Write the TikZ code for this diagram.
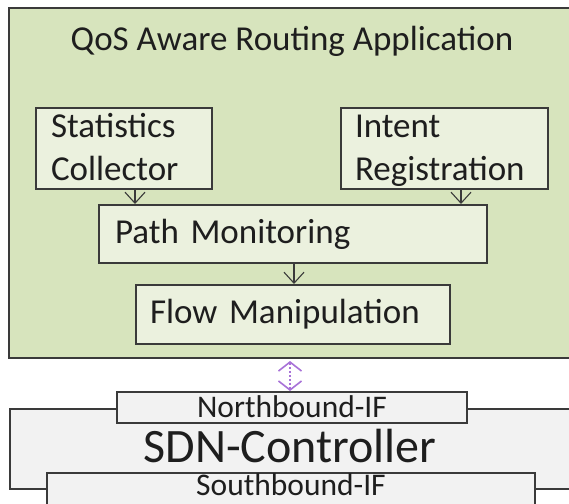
\documentclass[tikz,border=0pt]{standalone}
\usepackage{fontspec}
\setmainfont{Carlito}
\usetikzlibrary{arrows.meta}
\definecolor{appgreen}{HTML}{D7E4BD}
\definecolor{boxgreen}{HTML}{EBF1DE}
\definecolor{ctrlgray}{HTML}{F2F2F2}
\definecolor{edgegray}{HTML}{3A3A3A}
\definecolor{linkpurple}{HTML}{A872D8}
\definecolor{inkcol}{HTML}{1E1E1E}
\begin{document}
\begin{tikzpicture}[x=1pt,y=-1pt,
  frame/.style={draw=edgegray, line width=2pt},
  module/.style={frame, fill=boxgreen, inner ysep=0pt, align=left,
    text=inkcol, font=\fontsize{35}{43}\selectfont},
  iface/.style={frame, fill=ctrlgray, inner sep=0pt, text=inkcol,
    font=\fontsize{31.5}{36}\selectfont},
  flowarrow/.style={draw=edgegray, line width=1.1pt,
    -{Straight Barb[length=11pt,width=20pt]}},
  nbilink/.style={draw=linkpurple, line width=1.6pt, dash pattern=on 2pt off 2pt,
    {Straight Barb[length=9pt,width=23pt]}-{Straight Barb[length=9pt,width=23pt]}}
]
\useasboundingbox (0,0) rectangle (569,503);
\clip (0,0) rectangle (569,503);
\fill[white] (0,0) rectangle (569,503);

% application container
\node[frame, fill=appgreen, minimum width=600pt, minimum height=350pt,
  anchor=north west, inner sep=0pt] (app) at (8,7) {};
\node[anchor=base, inner sep=0pt, text=inkcol, font=\fontsize{35}{43}\selectfont]
  (apptitle) at (292,51) {QoS Aware Routing Application};

% application modules
\node[module, anchor=base west, inner xsep=15pt, text width=146pt,
  text height=29pt, text depth=52pt] (stats) at (35,137)
  {Statistics\\Collector};
\node[module, anchor=base west, inner xsep=14pt, text width=179pt,
  text height=29pt, text depth=52pt] (intent) at (340,137)
  {Intent\\Registration};
\node[module, anchor=base west, inner xsep=16pt, text width=356pt,
  text height=38pt, text depth=20pt] (pathmon) at (98,243)
  {Path Monitoring};
\node[module, anchor=base west, inner xsep=14pt, text width=286pt,
  text height=38pt, text depth=21pt] (flowman) at (135,323)
  {Flow Manipulation};

\draw[flowarrow] ([xshift=11pt]stats.south) -- ([xshift=11pt]stats.south |- pathmon.north);
\draw[flowarrow] ([xshift=16.5pt]intent.south) -- ([xshift=16.5pt]intent.south |- pathmon.north);
\draw[flowarrow] ([xshift=1pt]pathmon.south) -- ([xshift=1pt]pathmon.south |- flowman.north);

% controller
\node[frame, fill=ctrlgray, minimum width=600pt, minimum height=80pt,
  anchor=north west, inner sep=0pt] (ctrl) at (9,408) {};
\node[anchor=base, inner sep=0pt, text=inkcol, font=\fontsize{48}{54}\selectfont]
  (ctrltitle) at (290,462) {SDN-Controller};
\node[iface, anchor=base, minimum width=350pt, text height=25pt, text depth=6pt]
  (north) at (292,417) {Northbound-IF};
\node[iface, anchor=base, minimum width=488pt, text height=22pt, text depth=20pt]
  (south) at (291,495) {Southbound-IF};

\draw[nbilink] ([xshift=-2pt,yshift=-2pt]north.north |- app.south) -- ([xshift=-2pt]north.north);
\end{tikzpicture}
\end{document}
